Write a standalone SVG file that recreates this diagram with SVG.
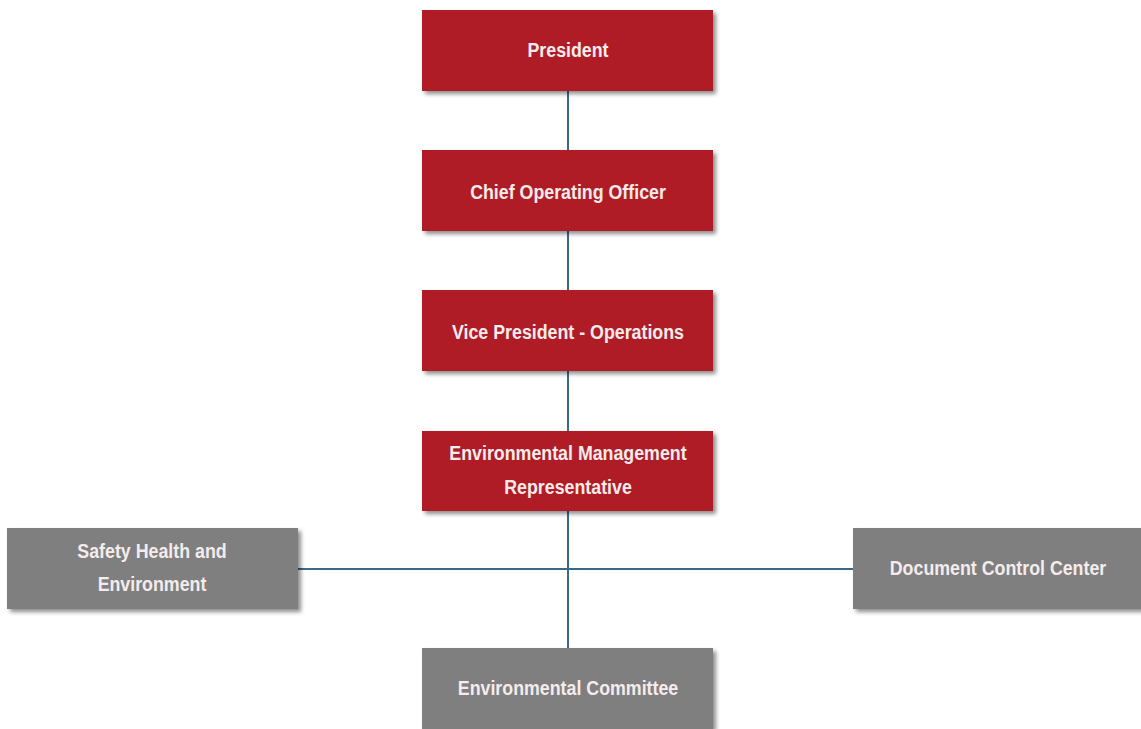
<svg xmlns="http://www.w3.org/2000/svg" width="1141" height="729" viewBox="0 0 1141 729">
<style>
.red{fill:#b01c26}
.gray{fill:#7f7f7f}
.lbl{font-family:"Liberation Sans",Arial,sans-serif;font-weight:bold;font-size:20px;fill:#f4ecec;text-anchor:middle}
.conn{stroke:#3b6a88;stroke-width:2;fill:none}
</style>
<defs>
<filter id="sh" x="-5%" y="-10%" width="115%" height="130%">
<feGaussianBlur in="SourceAlpha" stdDeviation="2"/>
<feOffset dx="3" dy="3" result="b"/>
<feComponentTransfer><feFuncA type="linear" slope="0.45"/></feComponentTransfer>
<feMerge><feMergeNode/><feMergeNode in="SourceGraphic"/></feMerge>
</filter>
</defs>
<rect width="1141" height="729" fill="#ffffff"/>
<g id="connectors">
<line class="conn" x1="568" y1="90" x2="568" y2="150"/>
<line class="conn" x1="568" y1="231" x2="568" y2="290"/>
<line class="conn" x1="568" y1="371" x2="568" y2="431"/>
<line class="conn" x1="568" y1="511" x2="568" y2="648"/>
<line class="conn" x1="298" y1="569" x2="853" y2="569"/>
</g>
<g id="president">
<rect class="red" x="422" y="10" width="291" height="81" filter="url(#sh)"/>
<text class="lbl" transform="translate(568 57) scale(0.89 1)">President</text>
</g>
<g id="coo">
<rect class="red" x="422" y="150" width="291" height="81" filter="url(#sh)"/>
<text class="lbl" transform="translate(568 199) scale(0.89 1)">Chief Operating Officer</text>
</g>
<g id="vp">
<rect class="red" x="422" y="290" width="291" height="81" filter="url(#sh)"/>
<text class="lbl" transform="translate(568 339) scale(0.89 1)">Vice President - Operations</text>
</g>
<g id="emr">
<rect class="red" x="422" y="431" width="291" height="80" filter="url(#sh)"/>
<text class="lbl" transform="translate(568 460) scale(0.89 1)">Environmental Management</text>
<text class="lbl" transform="translate(568 494) scale(0.89 1)">Representative</text>
</g>
<g id="she">
<rect class="gray" x="7" y="528" width="291" height="81" filter="url(#sh)"/>
<text class="lbl" transform="translate(152 558) scale(0.89 1)">Safety Health and</text>
<text class="lbl" transform="translate(152 591) scale(0.89 1)">Environment</text>
</g>
<g id="dcc">
<rect class="gray" x="853" y="528" width="291" height="81" filter="url(#sh)"/>
<text class="lbl" transform="translate(998 575) scale(0.89 1)">Document Control Center</text>
</g>
<g id="committee">
<rect class="gray" x="422" y="648" width="291" height="81" filter="url(#sh)"/>
<text class="lbl" transform="translate(568 695) scale(0.89 1)">Environmental Committee</text>
</g>
</svg>
